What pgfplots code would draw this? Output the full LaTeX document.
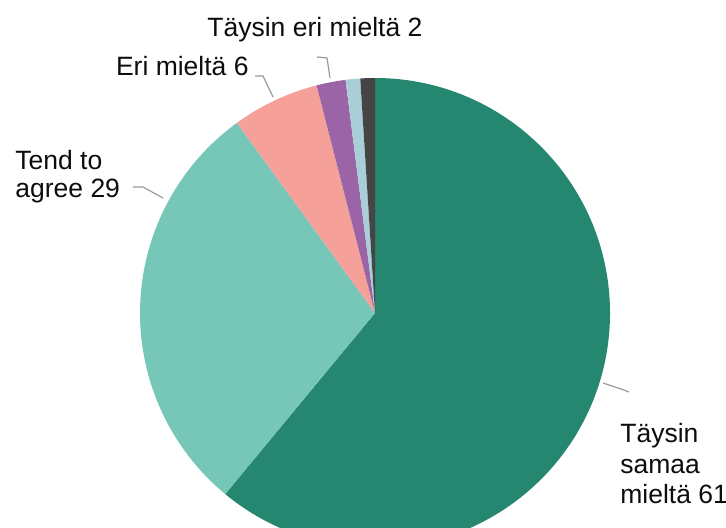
\documentclass[border=0pt]{standalone}
\usepackage{pgfplots}
\usepackage{pgfplotstable}
\usepackage{fontspec}
\setmainfont{Liberation Sans}
\pgfplotsset{compat=1.18}
\definecolor{c1}{HTML}{268770}
\definecolor{c2}{HTML}{77C7B8}
\definecolor{c3}{HTML}{F6A09A}
\definecolor{c4}{HTML}{9A64A6}
\definecolor{c5}{HTML}{A9CED8}
\definecolor{c6}{HTML}{454545}
\definecolor{lead}{HTML}{9A9A9A}
\pgfplotstableread{
label value color
samaa 61 c1
agree 29 c2
eri 6 c3
tayseri 2 c4
eos 1 c5
muu 1 c6
}\piedata
\begin{document}
\begin{tikzpicture}
\begin{axis}[
  scale only axis, width=363pt, height=263.5pt,
  xmin=0, xmax=726, ymin=0, ymax=527,
  hide axis, clip=false,
]
\pgfplotsextra{%
  \gdef\cum{0}%
  \foreach \i in {0,...,5}{%
    \pgfplotstablegetelem{\i}{value}\of\piedata \let\v\pgfplotsretval
    \pgfplotstablegetelem{\i}{color}\of\piedata \let\c\pgfplotsretval
    \pgfmathsetmacro\a{90-3.6*\cum}%
    \pgfmathsetmacro\b{90-3.6*(\cum+\v)}%
    \fill[fill=\c] (axis cs:375,214) -- ++(\a:117.5pt) arc[start angle=\a, end angle=\b, radius=117.5pt] -- cycle;
    \pgfmathsetmacro\newcum{\cum+\v}\global\let\cum\newcum
  }%
}
\draw[lead, line width=0.6pt] (axis cs:255,451) -- (axis cs:263,451) -- (axis cs:273,430);
\draw[lead, line width=0.6pt] (axis cs:317,470) -- (axis cs:327,469) -- (axis cs:330,449);
\draw[lead, line width=0.6pt] (axis cs:133,340) -- (axis cs:143,340) -- (axis cs:163,329);
\draw[lead, line width=0.6pt] (axis cs:603,144) -- (axis cs:621,138) -- (axis cs:629,135);
\begin{scope}[every node/.style={font=\fontsize{13.25pt}{15pt}\selectfont, inner sep=0pt, text=black!95}]
\node[anchor=base west] at (axis cs:207,490) {Täysin eri mieltä 2};
\node[anchor=base east] at (axis cs:249,451) {Eri mieltä 6};
\node[anchor=base west] at (axis cs:15,357) {Tend to};
\node[anchor=base west] at (axis cs:15,329) {agree 29};
\node[anchor=base west] at (axis cs:620,85) {Täysin};
\node[anchor=base west] at (axis cs:620,54) {samaa};
\node[anchor=base west] at (axis cs:620,24) {mieltä 61};
\end{scope}
\end{axis}
\pgfresetboundingbox
\useasboundingbox (current axis.south west) rectangle (current axis.north east);
\end{tikzpicture}
\end{document}
